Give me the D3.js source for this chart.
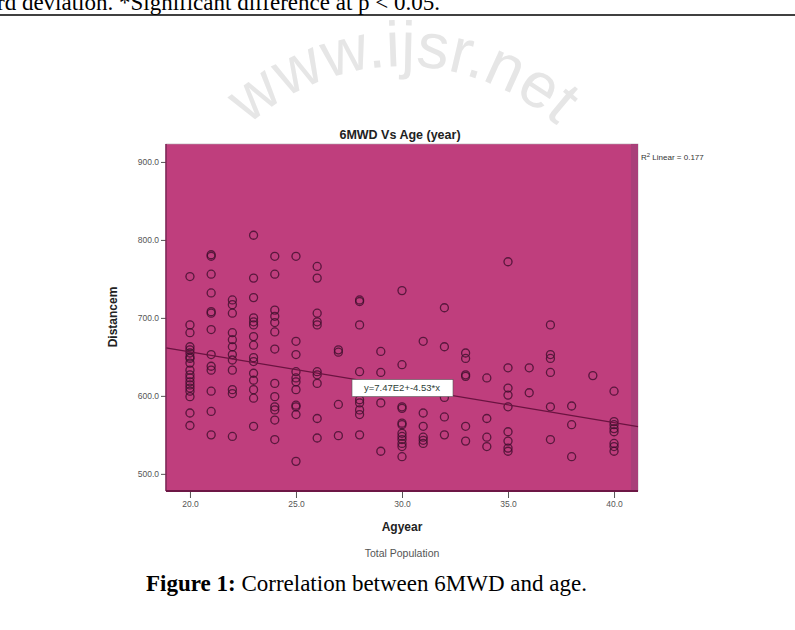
<!DOCTYPE html>
<html>
<head>
<meta charset="utf-8">
<script src="https://cdn.jsdelivr.net/npm/d3@7"></script>
<style>
  body { margin: 0; background: #fff; }
  svg { display: block; }
</style>
</head>
<body>
<script>
(function(){

  //chart data
  var ages = [20, 21, 22, 23, 24, 25, 26, 27, 28, 29, 30, 31, 32, 33, 34, 35, 36, 37, 38, 39, 40]; //age groups (year)
  var distances = [ //6MWD values (m) for each age group
    [753, 691, 681, 663, 659, 655, 650, 648, 642, 633, 627, 623, 618, 614, 610, 606, 599, 578, 562],
    [781, 779, 756, 732, 708, 706, 685, 653, 638, 633, 606, 580, 550],
    [723, 717, 706, 681, 672, 663, 653, 646, 633, 608, 603, 548],
    [806, 751, 726, 700, 695, 691, 676, 665, 649, 644, 629, 620, 608, 597, 561],
    [779, 756, 710, 702, 694, 682, 660, 616, 599, 586, 582, 569, 544],
    [779, 670, 653, 631, 623, 618, 608, 588, 586, 576, 516],
    [766, 751, 706, 695, 691, 631, 627, 616, 571, 546],
    [659, 656, 589, 549],
    [723, 721, 691, 631, 612, 595, 591, 582, 576, 550],
    [657, 630, 591, 529],
    [735, 640, 586, 584, 565, 563, 552, 548, 544, 539, 535, 522],
    [670, 578, 561, 547, 543, 539],
    [713, 663, 598, 573, 550],
    [655, 648, 627, 625, 561, 542],
    [623, 571, 547, 535],
    [772, 636, 610, 601, 586, 554, 542, 533, 529],
    [636, 604],
    [691, 653, 648, 630, 586, 544],
    [587, 563, 522],
    [626],
    [606, 567, 563, 558, 554, 539, 535, 529]
  ];
  var xTicks = [20, 25, 30, 35, 40];
  var yTicks = [500, 600, 700, 800, 900];
  var fitCoef = [747, -4.53]; //intercept, slope of linear fit
  var rSquared = 0.177;

  window.onload = setChart(); //begin script when window loads

  function setChart(){
    var width = 795, //page frame dimensions
        height = 630;

    var svg = d3.select("body")
      .append("svg")
      .attr("width", width)
      .attr("height", height);

    drawPage(svg, width);

    var x = d3.scaleLinear() //age scale
      .domain([18.87, 41.13])
      .range([166, 638]);

    var y = d3.scaleLinear() //distance scale
      .domain([478, 923])
      .range([491, 144]);

    //plot background
    svg.append("rect")
      .attr("x", x.range()[0])
      .attr("y", y.range()[1])
      .attr("width", x.range()[1] - x.range()[0])
      .attr("height", y.range()[0] - y.range()[1])
      .style("fill", "#bf3e7d")
      .style("stroke", "#b0a6ad")
      .style("stroke-width", 0.6);

    svg.append("rect") //darker strip along right border
      .attr("x", x.range()[1] - 7)
      .attr("y", y.range()[1])
      .attr("width", 7)
      .attr("height", y.range()[0] - y.range()[1])
      .style("fill", "#a9407a");

    //flatten groups into points
    var points = [];
    ages.forEach(function(a, i){
      distances[i].forEach(function(d){
        points.push({age: a, dist: d});
      });
    });

    var defs = svg.append("defs");
    defs.append("filter")
      .attr("id", "soft")
      .append("feGaussianBlur")
      .attr("stdDeviation", 0.35);

    svg.append("g")
      .attr("filter", "url(#soft)")
      .selectAll(".pt")
      .data(points)
      .enter()
      .append("circle")
      .attr("class", "pt")
      .attr("cx", function(d){ return x(d.age); })
      .attr("cy", function(d){ return y(d.dist); })
      .attr("r", 4)
      .style("fill", "none")
      .style("stroke", "#3e0c2c")
      .style("stroke-opacity", 0.8)
      .style("stroke-width", 1.3);

    //linear fit line
    var fit = function(a){ return fitCoef[0] + fitCoef[1] * a; };
    svg.append("line")
      .attr("x1", x(x.domain()[0]))
      .attr("y1", y(fit(x.domain()[0])))
      .attr("x2", x(x.domain()[1]))
      .attr("y2", y(fit(x.domain()[1])))
      .style("stroke", "#6a1340")
      .style("stroke-width", 1.3);

    //fit equation label
    var eq = svg.append("g")
      .attr("transform", "translate(" + x(30) + "," + y(610) + ")");
    eq.append("rect")
      .attr("x", -50)
      .attr("y", -8.5)
      .attr("width", 101)
      .attr("height", 17)
      .style("fill", "#ffffff")
      .style("stroke", "#555")
      .style("stroke-width", 0.6);
    eq.append("text")
      .attr("text-anchor", "middle")
      .attr("dy", "0.35em")
      .style("font-family", "Liberation Sans, Arial, sans-serif")
      .style("font-size", "9.5px")
      .style("fill", "#2c3d35")
      .text("y=" + (fitCoef[0] / 100).toFixed(2) + "E2+" + fitCoef[1].toFixed(2) + "*x");

    //axes
    var yAxis = d3.axisLeft(y)
      .tickValues(yTicks)
      .tickFormat(d3.format(".1f"))
      .tickSize(5)
      .tickPadding(2);
    var xAxis = d3.axisBottom(x)
      .tickValues(xTicks)
      .tickFormat(d3.format(".1f"))
      .tickSize(7)
      .tickPadding(3);

    var gy = svg.append("g")
      .attr("transform", "translate(" + x.range()[0] + ",0)")
      .call(yAxis);
    var gx = svg.append("g")
      .attr("transform", "translate(0," + y.range()[0] + ")")
      .call(xAxis);

    [gy, gx].forEach(function(g){
      g.select(".domain").remove();
      g.selectAll(".tick line").style("stroke", "#555").style("stroke-width", 1);
      g.selectAll(".tick text")
        .style("font-family", "Liberation Sans, Arial, sans-serif")
        .style("font-size", "8.5px")
        .style("fill", "#555");
    });

    //axis lines
    svg.append("line")
      .attr("x1", x.range()[0]).attr("x2", x.range()[0])
      .attr("y1", y.range()[1]).attr("y2", y.range()[0])
      .style("stroke", "#7d1e50").style("stroke-width", 1.5);
    svg.append("line")
      .attr("x1", x.range()[0]).attr("x2", x.range()[1])
      .attr("y1", y.range()[0]).attr("y2", y.range()[0])
      .style("stroke", "#6d1745").style("stroke-width", 2);

    //titles and labels
    var sans = "Liberation Sans, Arial, sans-serif";
    svg.append("text")
      .attr("x", 400).attr("y", 139)
      .attr("text-anchor", "middle")
      .style("font-family", sans).style("font-size", "12.5px").style("font-weight", "bold")
      .style("fill", "#222")
      .text("6MWD Vs Age (year)");

    svg.append("text")
      .attr("transform", "translate(117,317) rotate(-90)")
      .attr("text-anchor", "middle")
      .style("font-family", sans).style("font-size", "12px").style("font-weight", "bold")
      .style("fill", "#222")
      .text("Distancem");

    svg.append("text")
      .attr("x", 402).attr("y", 531)
      .attr("text-anchor", "middle")
      .style("font-family", sans).style("font-size", "12px").style("font-weight", "bold")
      .style("fill", "#222")
      .text("Agyear");

    svg.append("text")
      .attr("x", 402).attr("y", 557)
      .attr("text-anchor", "middle")
      .style("font-family", sans).style("font-size", "10.5px")
      .style("fill", "#555")
      .text("Total Population");

    var leg = svg.append("text")
      .attr("x", 641).attr("y", 160)
      .style("font-family", sans).style("font-size", "8px")
      .style("fill", "#333");
    leg.append("tspan").text("R");
    leg.append("tspan").attr("dy", -3).style("font-size", "6px").text("2");
    leg.append("tspan").attr("dy", 3).text(" Linear = " + rSquared.toFixed(3));
  };

  //surrounding page: watermark, table note, figure caption
  function drawPage(svg, width){
    var serif = "Liberation Serif, Times New Roman, serif";

    svg.append("path") //arc for watermark text
      .attr("id", "wmArc")
      .attr("d", "M 225 150 A 230 230 0 0 1 580 150")
      .style("fill", "none");
    svg.append("text")
      .style("font-family", "Liberation Sans, Arial, sans-serif")
      .style("font-size", "64px")
      .style("fill", "#e6e6e6")
      .append("textPath")
      .attr("href", "#wmArc")
      .attr("startOffset", "50%")
      .attr("text-anchor", "middle")
      .text("www.ijsr.net");

    svg.append("text")
      .attr("x", -3).attr("y", 10)
      .style("font-family", serif).style("font-size", "23px")
      .style("fill", "#000")
      .text("rd deviation. *Significant difference at p < 0.05.");

    svg.append("line")
      .attr("x1", 0).attr("x2", width)
      .attr("y1", 15).attr("y2", 15)
      .style("stroke", "#000").style("stroke-width", 1.5);

    var cap = svg.append("text")
      .attr("x", 146).attr("y", 591)
      .style("font-family", serif).style("font-size", "23px")
      .style("fill", "#000");
    cap.append("tspan").style("font-weight", "bold").text("Figure 1:");
    cap.append("tspan").text(" Correlation between 6MWD and age.");
  };
})();
</script>
</body>
</html>
